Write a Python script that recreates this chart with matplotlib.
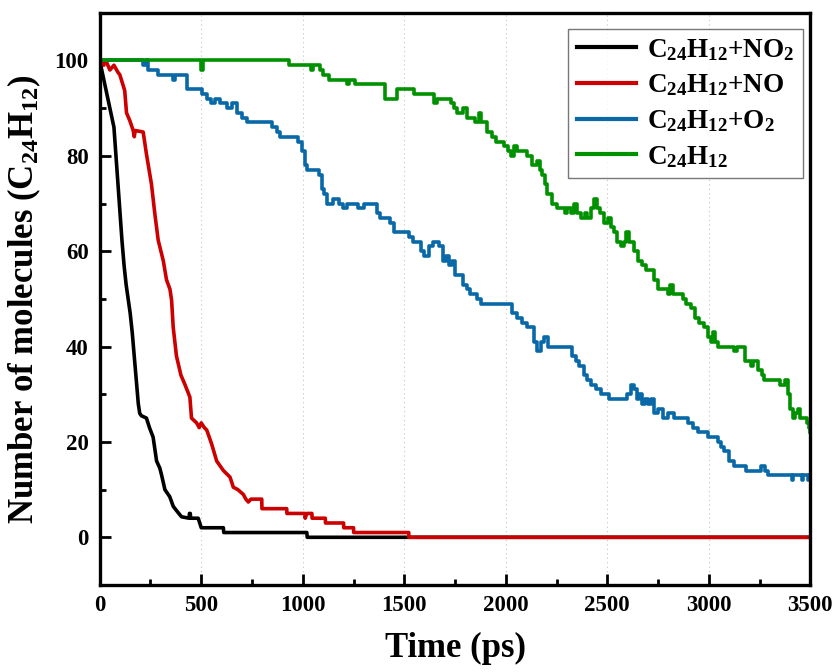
import matplotlib
matplotlib.use("Agg")
import matplotlib.pyplot as plt
from matplotlib.ticker import MultipleLocator

plt.rcParams['font.family'] = ['Liberation Serif', 'DejaVu Serif']
plt.rcParams['font.weight'] = 'bold'
plt.rcParams['mathtext.default'] = 'regular'

# ---- data (time in ps, number of C24H12 molecules) ----
# C24H12 + NO2 (read as polyline, plateaus given by their two corner points)
t_no2 = [0, 10, 30, 50, 70, 80, 90, 100, 110, 120, 130, 140, 150, 160, 170, 180, 190, 197, 205,
         230, 245, 263, 280, 296, 305, 321, 345, 362, 380, 403, 440, 442, 446, 448, 485, 500,
         609, 611, 1020, 1022, 3500]
n_no2 = [100, 98, 94, 90, 86, 80, 74, 68, 62, 57, 53, 50, 47, 43, 38, 33, 28, 26, 25.5,
         25, 23, 21, 16, 14.5, 13, 10, 8.5, 6.5, 5.5, 4.3, 4, 5, 5, 4, 4, 2,
         2, 1, 1, 0, 0]

# C24H12 + NO
t_no = [0, 20, 30, 50, 70, 90, 99, 123, 132, 148, 165, 170, 175, 214, 230, 255, 271, 288, 313,
        329, 346, 354, 362, 378, 400, 420, 444, 452, 477, 490, 500, 515, 527, 551, 576, 609, 642,
        658, 680, 707, 720, 732, 745, 798, 799, 921, 922, 1010, 1012, 1020, 1045, 1046, 1111, 1112,
        1201, 1202, 1250, 1251, 1522, 1523, 3500]
n_no = [100, 99, 100, 98, 99, 97.5, 97, 93.7, 89, 87.4, 85.3, 84, 85.3, 85, 80.4, 74, 68, 62.3, 58,
        54, 52, 49.7, 44, 38, 34, 32, 29.4, 25, 24, 23, 24, 23, 22.5, 19.6, 16, 14, 12.6,
        10.5, 10, 9, 8, 7.4, 8, 8, 6, 6, 5, 5, 4, 5, 5, 4, 4, 3,
        3, 2, 2, 1, 1, 0, 0]

# C24H12 + O2 (stepwise)
t_o2 = [0, 214, 230, 238, 288, 362, 370, 428, 502, 527, 550, 568, 590, 625, 650, 675, 700, 724,
        847, 872, 890, 979, 996, 1010, 1020, 1078, 1094, 1105, 1119, 1151, 1180, 1200, 1220, 1270,
        1300, 1366, 1382, 1431, 1448, 1522, 1545, 1580, 1596, 1620, 1640, 1670, 1690, 1705, 1719,
        1735, 1750, 1790, 1810, 1826, 1859, 1880, 2032, 2056, 2080, 2106, 2139, 2155, 2172, 2188,
        2210, 2328, 2345, 2361, 2385, 2402, 2420, 2443, 2470, 2509, 2599, 2615, 2632, 2645, 2657,
        2670, 2685, 2698, 2715, 2730, 2748, 2772, 2800, 2830, 2896, 2920, 2945, 2994, 3044, 3060,
        3077, 3100, 3126, 3184, 3258, 3275, 3291, 3409, 3416, 3458, 3465, 3490, 3497, 3500]
n_o2 = [100, 99, 100, 98, 97, 96, 97, 94, 93, 92, 91, 92, 91, 90, 91, 89, 88, 87,
        86, 85, 84, 83, 81, 78, 77, 76, 73, 72, 70, 71, 70, 69, 70, 69,
        70, 68, 67, 66, 64, 63, 62, 60, 59, 61, 62, 61, 58, 59, 57,
        58, 55, 53, 52, 51, 50, 49, 47, 46, 45, 44, 41, 39, 41, 42,
        40, 38, 37, 36, 34, 33, 32, 31, 30, 29, 30, 32, 31, 29, 30,
        28, 29, 28, 29, 26, 27, 25, 26, 25, 24, 23, 22, 21, 20, 19,
        18, 16, 15, 14, 15, 14, 13, 12, 13, 12, 13, 12, 13, 13]

# C24H12 alone (stepwise)
t_pure = [0, 500, 510, 930, 1040, 1050, 1086, 1102, 1127, 1218, 1230, 1259, 1407, 1448, 1464, 1522,
          1546, 1646, 1660, 1678, 1728, 1745, 1760, 1790, 1810, 1850, 1867, 1880, 1909, 1930, 1950,
          1991, 2010, 2024, 2040, 2056, 2106, 2130, 2155, 2170, 2180, 2192, 2205, 2229, 2250, 2290,
          2303, 2320, 2336, 2350, 2369, 2390, 2402, 2420, 2435, 2450, 2465, 2484, 2501, 2520, 2534,
          2550, 2567, 2580, 2591, 2605, 2632, 2650, 2673, 2690, 2730, 2748, 2797, 2810, 2825, 2871,
          2890, 2912, 2930, 2953, 2978, 2995, 3011, 3020, 3030, 3044, 3126, 3140, 3180, 3208, 3220,
          3240, 3260, 3274, 3350, 3373, 3389, 3400, 3414, 3425, 3438, 3450, 3485, 3495, 3500]
n_pure = [100, 98, 100, 99, 98, 99, 98, 97, 96, 95, 96, 95, 92, 92, 94, 94,
          93, 91, 92, 92, 91, 90, 89, 90, 88, 87, 89, 87, 85, 84, 83,
          82, 81, 80, 82, 81, 80, 78, 79, 77, 76, 74, 72, 70, 69, 68,
          69, 68, 70, 68, 67, 68, 67, 69, 71, 69, 68, 66, 67, 65, 64,
          62, 61, 62, 64, 62, 60, 58, 57, 56, 54, 52, 51, 53, 51, 50,
          49, 48, 46, 45, 44, 42, 41, 43, 41, 40, 39, 40, 37, 36, 37,
          35, 34, 33, 32, 33, 30, 27, 25, 26, 27, 25, 24, 23, 22]

labels = [r'C$_{24}$H$_{12}$+NO$_2$', r'C$_{24}$H$_{12}$+NO', r'C$_{24}$H$_{12}$+O$_2$', r'C$_{24}$H$_{12}$']
colors = ['#000000', '#cc0000', '#0868a8', '#009100']
styles = ['default', 'default', 'steps-post', 'steps-post']

x_ticks = [0, 500, 1000, 1500, 2000, 2500, 3000, 3500]
y_ticks = [0, 20, 40, 60, 80, 100]

fig = plt.figure(figsize=(8.38, 6.72), dpi=100)
ax = fig.add_axes([0.119, 0.1295, 0.848, 0.8515])

series = [(t_no2, n_no2), (t_no, n_no), (t_o2, n_o2), (t_pure, n_pure)]
for (t, n), lab, c, ds in zip(series, labels, colors, styles):
    ax.plot(t, n, drawstyle=ds, color=c, lw=2.6, label=lab)

ax.set_xlim(0, 3500)
ax.set_ylim(-10, 110)
ax.set_xticks(x_ticks)
ax.set_yticks(y_ticks)
ax.xaxis.set_minor_locator(MultipleLocator(250))
ax.yaxis.set_minor_locator(MultipleLocator(10))
ax.tick_params(which='major', direction='in', length=8, width=2, labelsize=16.5, top=False, right=False)
ax.tick_params(which='minor', direction='in', length=4, width=2, top=False, right=False)
ax.tick_params(axis='x', which='major', pad=7)
ax.tick_params(axis='y', which='major', pad=8)
for lbl in ax.get_xticklabels() + ax.get_yticklabels():
    lbl.set_fontweight('bold')
for s in ax.spines.values():
    s.set_linewidth(2.4)

ax.xaxis.grid(True, which='major', linestyle=(0, (1, 3)), color='#c4c4c4', lw=0.8)
ax.set_axisbelow(True)

ax.set_xlabel('Time (ps)', fontsize=25, fontweight='bold', labelpad=12)
ax.set_ylabel(r'Number of molecules (C$_{24}$H$_{12}$)', fontsize=25, fontweight='bold', labelpad=8)

leg = ax.legend(loc='upper right', bbox_to_anchor=(0.989, 0.972), borderaxespad=0,
                fancybox=False, edgecolor='#555555', fontsize=19.5, handlelength=2.2,
                handletextpad=0.4, labelspacing=0.36, borderpad=0.3)
leg.get_frame().set_linewidth(1.0)
for line in leg.get_lines():
    line.set_linewidth(3)

fig.savefig('out.png', dpi=100)
